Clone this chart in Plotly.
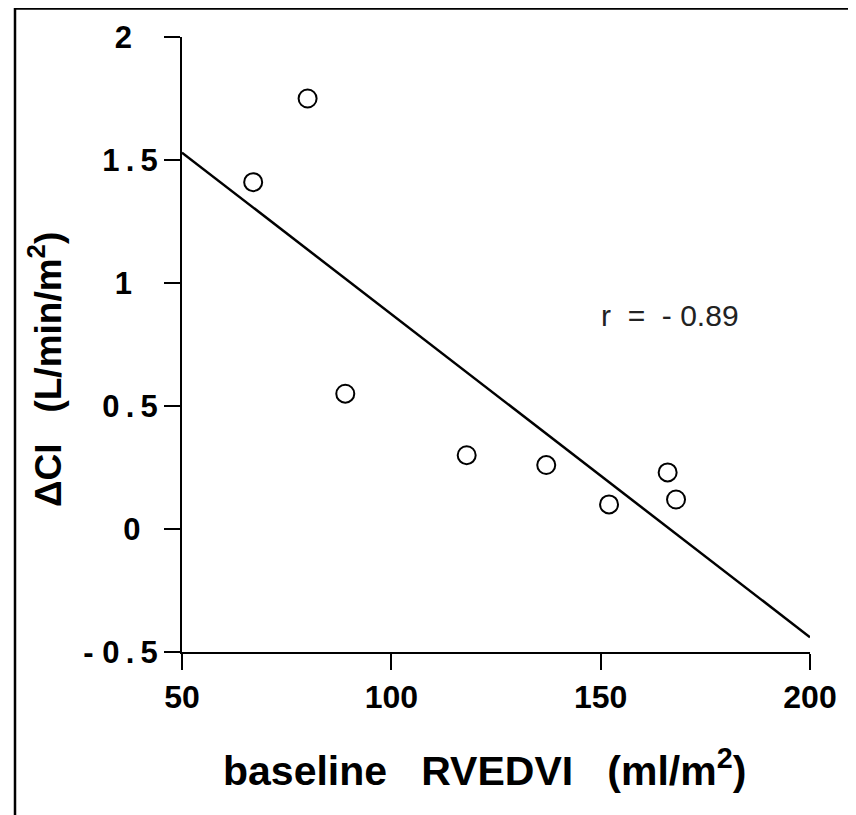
import plotly.graph_objects as go

# Data
rvedvi = [67, 80, 89, 118, 137, 152, 166, 168]
delta_ci = [1.41, 1.75, 0.55, 0.30, 0.26, 0.10, 0.23, 0.12]

fit_x = [50, 200]
fit_y = [1.53, -0.44]

NB = "\u00a0"
TH = "\u2009"
y_tickvals = [2, 1.5, 1, 0.5, 0, -0.5]
y_ticktext = ["2" + NB * 3, "1" + TH + "." + TH + "5", "1" + NB * 3,
              "0" + TH + "." + TH + "5", "0" + NB * 2,
              "-" + NB + "0" + TH + "." + TH + "5"]
x_tickvals = [50, 100, 150, 200]
x_ticktext = ["50", "100", "150", "200"]

x_title = "baseline" + NB * 3 + "RVEDVI" + NB * 3 + "(ml/m<sup>2</sup>)"
y_title = "ΔCI" + NB * 3 + "(L/min/m<sup>2</sup>)"

FONT = "Liberation Sans"

# page has an 8px body margin; figure sized/positioned to compensate
W, H = 848, 807
L, R, T, B = 174, 46, 29, 163
PW, PH = W - L - R, H - T - B

fig = go.Figure()
fig.add_trace(go.Scatter(x=fit_x, y=fit_y, mode="lines",
                         line=dict(color="black", width=2.5),
                         showlegend=False, cliponaxis=False))
fig.add_trace(go.Scatter(x=rvedvi, y=delta_ci, mode="markers",
                         marker=dict(symbol="circle-open", size=18,
                                     color="black", line=dict(width=2)),
                         showlegend=False, cliponaxis=False))

fig.add_annotation(x=166.5, y=0.866, xref="x", yref="y",
                   text="r" + NB * 2 + "=" + NB * 2 + "-" + NB + "0.89",
                   showarrow=False,
                   font=dict(family=FONT, size=30, color="#222"))

# axis titles (placed as in the reference)
fig.add_annotation(x=(484 - 182) / 628, y=(652 - 768) / 615,
                   xref="paper", yref="paper", text=x_title, showarrow=False,
                   xanchor="center", yanchor="middle",
                   font=dict(family=FONT, size=41, weight="bold"))
fig.add_annotation(x=(45 - 182) / 628, y=(652 - 370) / 615,
                   xref="paper", yref="paper", text=y_title, showarrow=False,
                   textangle=-90, xanchor="center", yanchor="middle",
                   font=dict(family=FONT, size=37, weight="bold"))

# outer frame
fig.add_shape(type="rect", xref="paper", yref="paper",
              x0=(7 - L) / PW, x1=(845 - L) / PW,
              y0=(T + PH - (H + 20)) / PH, y1=(T + PH - 0.5) / PH,
              line=dict(color="black", width=2.5), layer="below")

fig.update_layout(
    width=W, height=H,
    margin=dict(l=L, r=R, t=T, b=B),
    paper_bgcolor="white", plot_bgcolor="white",
    font=dict(family=FONT, color="black"),
    xaxis=dict(range=[50, 200], tickvals=x_tickvals, ticktext=x_ticktext,
               showline=True, linecolor="black", linewidth=2,
               ticks="outside", ticklen=16, tickwidth=2, tickcolor="black",
               showgrid=False, zeroline=False,
               tickfont=dict(family=FONT, size=32, weight="bold"),
               ticklabelstandoff=0),
    yaxis=dict(range=[-0.5, 2], tickvals=y_tickvals, ticktext=y_ticktext,
               showline=True, linecolor="black", linewidth=2,
               ticks="outside", ticklen=16, tickwidth=2, tickcolor="black",
               showgrid=False, zeroline=False,
               tickfont=dict(family=FONT, size=31, weight="bold"),
               ticklabelstandoff=0),
)

fig.write_html("out.html")
